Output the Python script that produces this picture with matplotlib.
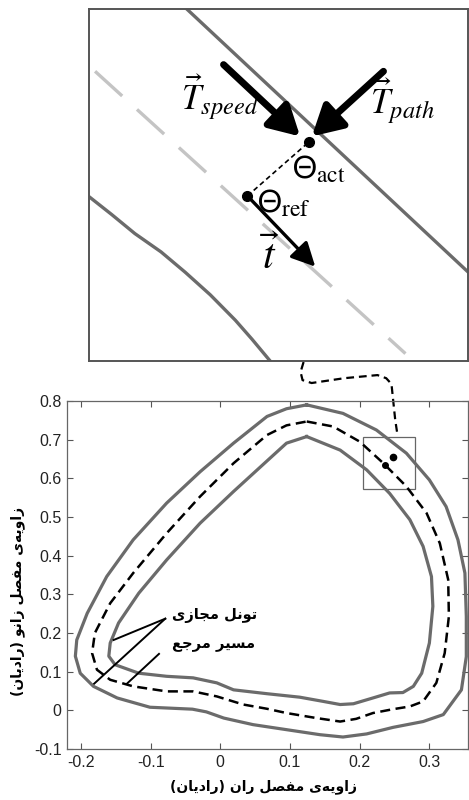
import numpy as np
import matplotlib
matplotlib.use('Agg')
import matplotlib.pyplot as plt
from matplotlib import font_manager
from matplotlib.ft2font import FT2Font

plt.rcParams['mathtext.fontset'] = 'stix'

# ---- data (radians) ----
ref_x = [0.124, 0.162, 0.200, 0.234, 0.267, 0.296, 0.315, 0.327, 0.328, 0.322, 0.310, 0.291,
         0.272, 0.248, 0.219, 0.195, 0.172, 0.138, 0.095, 0.067, 0.033, -0.005, -0.039, -0.077,
         -0.125, -0.158, -0.177, -0.184, -0.180, -0.158, -0.125, -0.077, -0.029, 0.019, 0.067,
         0.095, 0.124]
ref_y = [0.747, 0.734, 0.695, 0.639, 0.579, 0.510, 0.432, 0.338, 0.243, 0.148, 0.071, 0.023,
         0.010, 0.003, -0.007, -0.022, -0.029, -0.020, -0.007, 0.004, 0.015, 0.036, 0.049, 0.049,
         0.062, 0.079, 0.105, 0.148, 0.200, 0.277, 0.355, 0.458, 0.553, 0.639, 0.712,
         0.737, 0.747]

out_x = [0.124, 0.176, 0.224, 0.267, 0.300, 0.324, 0.341, 0.351, 0.353, 0.353, 0.346, 0.320,
         0.291, 0.248, 0.210, 0.176, 0.143, 0.095, 0.047, 0.005, -0.020, -0.040, -0.101, -0.148,
         -0.182, -0.201, -0.208, -0.206, -0.191, -0.163, -0.125, -0.077, -0.029, 0.019, 0.067,
         0.095, 0.124]
out_y = [0.790, 0.768, 0.725, 0.665, 0.596, 0.527, 0.441, 0.355, 0.243, 0.139, 0.053, -0.011,
         -0.029, -0.044, -0.061, -0.069, -0.063, -0.050, -0.037, -0.020, -0.004, 0.003, 0.008, 0.032,
         0.062, 0.096, 0.140, 0.182, 0.251, 0.346, 0.441, 0.536, 0.617, 0.691, 0.760,
         0.780, 0.790]

in_x = [0.124, 0.172, 0.210, 0.243, 0.272, 0.291, 0.303, 0.305, 0.300, 0.289, 0.277, 0.262,
        0.243, 0.219, 0.191, 0.172, 0.148, 0.114, 0.067, 0.019, -0.005, -0.039, -0.077, -0.117,
        -0.151, -0.160, -0.158, -0.146, -0.117, -0.077, -0.029, 0.019, 0.067, 0.095, 0.124]
in_y = [0.708, 0.673, 0.622, 0.561, 0.493, 0.424, 0.346, 0.269, 0.174, 0.096, 0.062, 0.046,
        0.045, 0.032, 0.017, 0.015, 0.023, 0.034, 0.043, 0.053, 0.071, 0.084, 0.088, 0.096,
        0.118, 0.140, 0.174, 0.226, 0.303, 0.389, 0.484, 0.566, 0.645, 0.691, 0.708]

theta_ref = (0.236, 0.635)
theta_act = (0.248, 0.654)
zoom_box = (0.205, 0.572, 0.28, 0.708)   # x0, y0, x1, y1

# callout lines for the two labels
tunnel_lines = [[(-0.079, 0.237), (-0.153, 0.182)], [(-0.079, 0.237), (-0.181, 0.069)]]
path_line = [(-0.088, 0.146), (-0.134, 0.069)]

# dashed connector from the zoom box up to the inset
link_x = [0.1195, 0.1152, 0.118, 0.131, 0.178, 0.2255, 0.238, 0.2456, 0.248, 0.251, 0.254]
link_y = [0.9008, 0.875, 0.854, 0.8465, 0.859, 0.867, 0.859, 0.844, 0.8026, 0.751, 0.715]

# inset (schematic, axes fraction)
up_u, up_v = [0.258, 1.0], [1.0, 0.253]
lo_u = [0.0, 0.06, 0.121, 0.19, 0.254, 0.32, 0.386, 0.43, 0.478]
lo_v = [0.467, 0.416, 0.362, 0.31, 0.252, 0.188, 0.116, 0.062, 0.0]
mid_u, mid_v = [0.016, 0.835], [0.823, 0.021]
act_pt = (0.581, 0.623)
ref_pt = (0.418, 0.469)
speed_tail, speed_head = (0.355, 0.842), (0.557, 0.638)
path_tail, path_head = (0.777, 0.823), (0.588, 0.638)
t_head = (0.597, 0.268)

xticks = [-0.2, -0.1, 0, 0.1, 0.2, 0.3]
yticks = [-0.1, 0, 0.1, 0.2, 0.3, 0.4, 0.5, 0.6, 0.7, 0.8]
xlabel = 'زاویه‌ی مفصل ران (رادیان)'
ylabel = 'زاویه‌ی مفصل زانو (رادیان)'
lab_tunnel = 'تونل مجازی'
lab_path = 'مسیر مرجع'


# ---- minimal Persian shaping (matplotlib draws no joined forms itself) ----
FORMS = {  # isolated, final, initial, medial
    'ا': (0xFE8D, 0xFE8E), 'د': (0xFEA9, 0xFEAA), 'ر': (0xFEAD, 0xFEAE),
    'ز': (0xFEAF, 0xFEB0), 'و': (0xFEED, 0xFEEE),
    'ت': (0xFE95, 0xFE96, 0xFE97, 0xFE98), 'ج': (0xFE9D, 0xFE9E, 0xFE9F, 0xFEA0),
    'س': (0xFEB1, 0xFEB2, 0xFEB3, 0xFEB4), 'ص': (0xFEB9, 0xFEBA, 0xFEBB, 0xFEBC),
    'ع': (0xFEC9, 0xFECA, 0xFECB, 0xFECC), 'ف': (0xFED1, 0xFED2, 0xFED3, 0xFED4),
    'ل': (0xFEDD, 0xFEDE, 0xFEDF, 0xFEE0), 'م': (0xFEE1, 0xFEE2, 0xFEE3, 0xFEE4),
    'ن': (0xFEE5, 0xFEE6, 0xFEE7, 0xFEE8), 'ه': (0xFEE9, 0xFEEA, 0xFEEB, 0xFEEC),
    'ی': (0xFBFC, 0xFBFD, 0xFBFE, 0xFBFF),
}

fa_font = 'DejaVu Sans'
cmap = FT2Font(font_manager.findfont(font_manager.FontProperties(family=fa_font, weight='bold'))).get_charmap()
if 0xFBFC not in cmap:
    FORMS['ی'] = (0xFEEF, 0xFEF0, 0xFEF3, 0xFEF4)


def shape(s):
    out = []
    for i, c in enumerate(s):
        if c not in FORMS:
            if c != '\u200c':
                out.append({'(': ')', ')': '('}.get(c, c))
            continue
        prev = s[i - 1] if i > 0 else ''
        nxt = s[i + 1] if i + 1 < len(s) else ''
        jp = prev in FORMS and len(FORMS[prev]) == 4
        jn = len(FORMS[c]) == 4 and nxt in FORMS
        f = FORMS[c]
        if jp and jn:
            g = f[3]
        elif jp:
            g = f[1]
        elif jn:
            g = f[2]
        else:
            g = f[0]
        out.append(chr(g))
    return ''.join(out[::-1])


fig = plt.figure(figsize=(4.69, 8.0), dpi=100)
ax = fig.add_axes([67 / 469, 51 / 800, 400.7 / 469, 348 / 800])

gray = '#6b6b6b'
ax.plot(out_x, out_y, color=gray, lw=2.3, solid_joinstyle='round')
ax.plot(in_x, in_y, color=gray, lw=2.3, solid_joinstyle='round')
ln, = ax.plot(ref_x, ref_y, color='black', lw=1.8)
ln.set_dashes((4, 2.2))
ax.plot(*theta_ref, 'o', color='black', ms=4)
ax.plot(*theta_act, 'o', color='black', ms=4.5)
ax.add_patch(plt.Rectangle((zoom_box[0], zoom_box[1]), zoom_box[2] - zoom_box[0],
                           zoom_box[3] - zoom_box[1], fill=False, ec='#666666', lw=0.9))
for seg in tunnel_lines + [path_line]:
    ax.plot([p[0] for p in seg], [p[1] for p in seg], color='black', lw=1.4)
lk, = ax.plot(link_x, link_y, color='black', lw=1.6, clip_on=False)
lk.set_dashes((3.5, 2.2))

ax.text(0.0525, 0.244, shape(lab_tunnel), ha='right', va='center', fontsize=10.5,
        family=fa_font, fontweight='bold')
ax.text(0.05, 0.172, shape(lab_path), ha='right', va='center', fontsize=10.5,
        family=fa_font, fontweight='bold')

ax.set_xlim(-0.22, 0.355)
ax.set_ylim(-0.1, 0.8)
ax.set_xticks(xticks)
ax.set_xticklabels(['%g' % v for v in xticks])
ax.set_yticks(yticks)
ax.set_yticklabels(['%g' % v for v in yticks])
ax.tick_params(direction='in', top=True, right=True, length=4, width=0.8, color='#555555',
               labelsize=11.5, labelcolor='#222222', pad=4)
for lbl in ax.get_xticklabels() + ax.get_yticklabels():
    lbl.set_family('Liberation Sans')
for sp in ax.spines.values():
    sp.set_color('#666666')
    sp.set_linewidth(0.9)
ax.set_xlabel(shape(xlabel), fontsize=10, family=fa_font, fontweight='bold')
ax.set_ylabel(shape(ylabel), fontsize=10, family=fa_font, fontweight='bold')
ax.xaxis.set_label_coords(0.49, -0.088)
ax.yaxis.set_label_coords(-0.105, 0.425)

# ---- inset ----
ins = fig.add_axes([89 / 469, 439 / 800, 379 / 469, 352 / 800])
ins.set_xlim(0, 1)
ins.set_ylim(0, 1)
ins.set_xticks([])
ins.set_yticks([])
for sp in ins.spines.values():
    sp.set_color('#555555')
    sp.set_linewidth(1.4)
ins.plot(up_u, up_v, color=gray, lw=2.4)
ins.plot(lo_u, lo_v, color=gray, lw=2.4)
md, = ins.plot(mid_u, mid_v, color='#c4c4c4', lw=2.4)
md.set_dashes((11, 6))

ins.annotate('', xy=speed_head, xytext=speed_tail,
             arrowprops=dict(arrowstyle='-|>,head_length=0.9,head_width=0.5', lw=5,
                             color='black', shrinkA=0, shrinkB=0, mutation_scale=20))
ins.annotate('', xy=path_head, xytext=path_tail,
             arrowprops=dict(arrowstyle='-|>,head_length=0.9,head_width=0.5', lw=5,
                             color='black', shrinkA=0, shrinkB=0, mutation_scale=20))
ins.annotate('', xy=t_head, xytext=ref_pt,
             arrowprops=dict(arrowstyle='-|>,head_length=0.8,head_width=0.4', lw=2.4,
                             color='black', shrinkA=0, shrinkB=0, mutation_scale=18))
dl, = ins.plot([ref_pt[0], act_pt[0]], [ref_pt[1], act_pt[1]], color='black', lw=1.2)
dl.set_dashes((3, 2))
ins.plot(*act_pt, 'o', color='black', ms=7)
ins.plot(*ref_pt, 'o', color='black', ms=7)

ins.text(0.346, 0.75, r'$\vec{T}_{speed}$', ha='center', va='center', fontsize=25)
ins.text(0.826, 0.737, r'$\vec{T}_{path}$', ha='center', va='center', fontsize=25)
ins.text(0.535, 0.545, r'$\mathsf{\Theta}_{\mathrm{act}}$', ha='left', va='center', fontsize=24)
ins.text(0.443, 0.45, r'$\mathsf{\Theta}_{\mathrm{ref}}$', ha='left', va='center', fontsize=24)
ins.text(0.478, 0.296, r'$\vec{t}$', ha='center', va='center', fontsize=30)

fig.savefig('out.png', dpi=100)
